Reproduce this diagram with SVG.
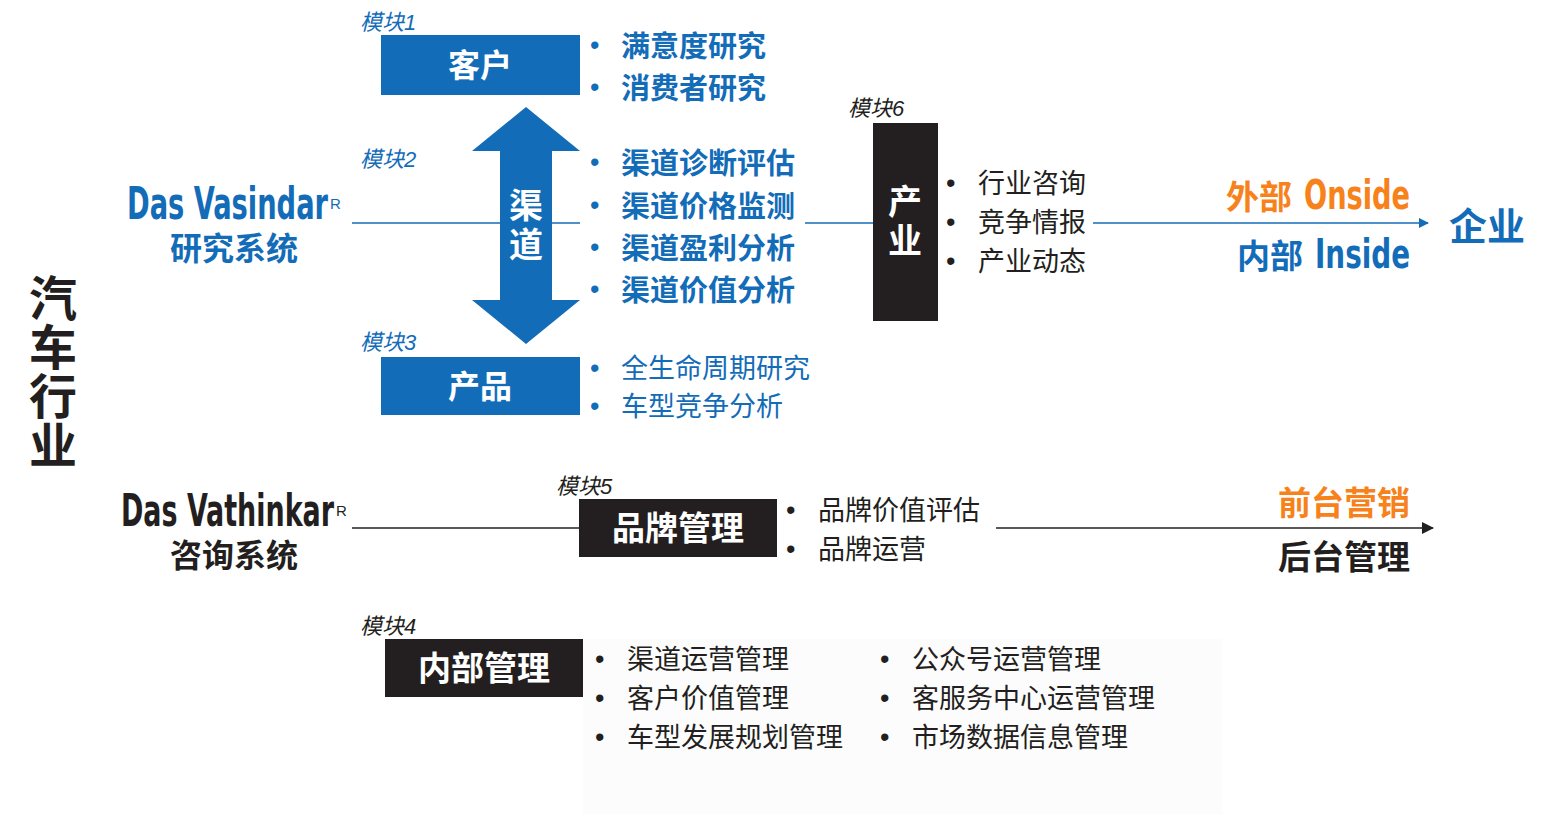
<svg xmlns="http://www.w3.org/2000/svg" width="1548" height="814" viewBox="0 0 1548 814">
<defs>
<style>
.cjk{font-family:"Noto Sans CJK SC","Noto Sans",sans-serif;}
.b{font-weight:700;}
.blue{fill:#136CB8;}
.blk{fill:#231F20;}
.org{fill:#F7821B;}
.wht{fill:#FFFFFF;}
.mod{font-family:"Liberation Sans","Noto Sans CJK SC",sans-serif;font-style:italic;font-size:22px;}
.cond{font-family:"DejaVu Sans Condensed","Liberation Sans Narrow",sans-serif;font-weight:700;}
.sup{font-family:"Liberation Sans",sans-serif;font-weight:400;font-size:15px;}
.li{font-size:29px;font-weight:700;}
.lr{font-size:27px;}
.bu{font-family:"Liberation Sans",sans-serif;font-size:27px;}
.box-b{fill:#136CB8;}
.box-k{fill:#231F20;}
.ln-b{stroke:#136CB8;stroke-width:1.5;fill:none;}
.ln-k{stroke:#231F20;stroke-width:1.5;fill:none;}
</style>
<marker id="ahb" markerWidth="10" markerHeight="10" refX="9" refY="5" orient="auto" markerUnits="userSpaceOnUse" viewBox="0 0 10 10"><path d="M0,0 L10,5 L0,10 z" fill="#136CB8"/></marker>
<marker id="ahk" markerWidth="12" markerHeight="12" refX="11" refY="6" orient="auto" markerUnits="userSpaceOnUse" viewBox="0 0 12 12"><path d="M0,0 L12,6 L0,12 z" fill="#231F20"/></marker>
</defs>
<rect width="1548" height="814" fill="#FFFFFF"/>
<rect x="583" y="639" width="639" height="175" fill="#FCFCFC"/>

<g id="connectors">
<line class="ln-b" x1="352" y1="223" x2="580" y2="223"/>
<line class="ln-b" x1="805" y1="223" x2="873" y2="223"/>
<line class="ln-b" x1="1093" y1="223" x2="1428" y2="223" marker-end="url(#ahb)"/>
<line class="ln-k" x1="352" y1="528" x2="580" y2="528"/>
<line class="ln-k" x1="996" y1="528" x2="1433" y2="528" marker-end="url(#ahk)"/>
</g>

<g id="title">
<text class="cjk b blk" font-size="48" x="53" y="274" writing-mode="vertical-rl" letter-spacing="1">汽车行业</text>
</g>

<g id="vasindar">
<text class="cond blue" font-size="45" x="127" y="219"><tspan textLength="201" lengthAdjust="spacingAndGlyphs">Das Vasindar</tspan><tspan class="sup" dx="2" dy="-10">R</tspan></text>
<text class="cjk b blue" font-size="32" x="234" y="246" text-anchor="middle" dominant-baseline="central">研究系统</text>
</g>

<g id="vathinkar">
<text class="cond blk" font-size="45" x="121" y="526"><tspan textLength="213" lengthAdjust="spacingAndGlyphs">Das Vathinkar</tspan><tspan class="sup" dx="2" dy="-10">R</tspan></text>
<text class="cjk b blk" font-size="32" x="234" y="553" text-anchor="middle" dominant-baseline="central">咨询系统</text>
</g>

<g id="module1">
<text class="mod blue" x="360" y="30">模块1</text>
<rect class="box-b" x="381" y="35" width="199" height="60"/>
<text class="cjk b wht" font-size="32" x="480" y="63" text-anchor="middle" dominant-baseline="central">客户</text>
<text class="bu blue" x="590" y="54">•</text>
<text class="cjk li blue" x="621" y="44" dominant-baseline="central">满意度研究</text>
<text class="bu blue" x="590" y="96">•</text>
<text class="cjk li blue" x="621" y="86" dominant-baseline="central">消费者研究</text>
</g>

<g id="module2">
<text class="mod blue" x="360" y="167">模块2</text>
<path class="box-b" d="M526,107 L580,151 L552,151 L552,300 L580,300 L526,344 L472,300 L500,300 L500,151 L472,151 Z"/>
<text class="cjk b wht" font-size="34" x="526" y="188" writing-mode="vertical-rl" letter-spacing="5">渠道</text>
<text class="bu blue" x="590" y="171">•</text>
<text class="cjk li blue" x="621" y="161" dominant-baseline="central">渠道诊断评估</text>
<text class="bu blue" x="590" y="214">•</text>
<text class="cjk li blue" x="621" y="204" dominant-baseline="central">渠道价格监测</text>
<text class="bu blue" x="590" y="256">•</text>
<text class="cjk li blue" x="621" y="246" dominant-baseline="central">渠道盈利分析</text>
<text class="bu blue" x="590" y="298">•</text>
<text class="cjk li blue" x="621" y="288" dominant-baseline="central">渠道价值分析</text>
</g>

<g id="module3">
<text class="mod blue" x="360" y="350">模块3</text>
<rect class="box-b" x="381" y="357" width="199" height="58"/>
<text class="cjk b wht" font-size="32" x="480" y="384" text-anchor="middle" dominant-baseline="central">产品</text>
<text class="bu blue" x="590" y="377">•</text>
<text class="cjk lr blue" x="621" y="366" dominant-baseline="central">全生命周期研究</text>
<text class="bu blue" x="590" y="415">•</text>
<text class="cjk lr blue" x="621" y="404" dominant-baseline="central">车型竞争分析</text>
</g>

<g id="module6">
<text class="mod blk" x="848" y="116">模块6</text>
<rect class="box-k" x="873" y="123" width="65" height="198"/>
<text class="cjk b wht" font-size="34" x="905" y="184" writing-mode="vertical-rl" letter-spacing="5">产业</text>
<text class="bu blk" x="946" y="192">•</text>
<text class="cjk lr blk" x="978" y="181" dominant-baseline="central">行业咨询</text>
<text class="bu blk" x="946" y="231">•</text>
<text class="cjk lr blk" x="978" y="220" dominant-baseline="central">竞争情报</text>
<text class="bu blk" x="946" y="270">•</text>
<text class="cjk lr blk" x="978" y="259" dominant-baseline="central">产业动态</text>
</g>

<g id="enterprise">
<text class="cjk b org" font-size="33" x="1226" y="195" dominant-baseline="central">外部</text>
<text class="cond org" font-size="40" x="1304" y="209" textLength="106" lengthAdjust="spacingAndGlyphs">Onside</text>
<text class="cjk b blue" font-size="33" x="1237" y="254" dominant-baseline="central">内部</text>
<text class="cond blue" font-size="40" x="1315" y="268" textLength="95" lengthAdjust="spacingAndGlyphs">Inside</text>
<text class="cjk b blue" font-size="38" x="1487" y="223" text-anchor="middle" dominant-baseline="central">企业</text>
</g>

<g id="module5">
<text class="mod blk" x="556" y="494">模块5</text>
<rect class="box-k" x="579" y="499" width="198" height="58"/>
<text class="cjk b wht" font-size="33" x="678" y="526" text-anchor="middle" dominant-baseline="central">品牌管理</text>
<text class="bu blk" x="786" y="519">•</text>
<text class="cjk lr blk" x="818" y="508" dominant-baseline="central">品牌价值评估</text>
<text class="bu blk" x="786" y="558">•</text>
<text class="cjk lr blk" x="818" y="547" dominant-baseline="central">品牌运营</text>
</g>

<g id="frontback">
<text class="cjk b org" font-size="33" x="1410" y="501" text-anchor="end" dominant-baseline="central">前台营销</text>
<text class="cjk b blk" font-size="33" x="1410" y="555" text-anchor="end" dominant-baseline="central">后台管理</text>
</g>

<g id="module4">
<text class="mod blk" x="360" y="634">模块4</text>
<rect class="box-k" x="385" y="639" width="198" height="58"/>
<text class="cjk b wht" font-size="33" x="484" y="666" text-anchor="middle" dominant-baseline="central">内部管理</text>
<text class="bu blk" x="595" y="668">•</text>
<text class="cjk lr blk" x="627" y="657" dominant-baseline="central">渠道运营管理</text>
<text class="bu blk" x="595" y="707">•</text>
<text class="cjk lr blk" x="627" y="696" dominant-baseline="central">客户价值管理</text>
<text class="bu blk" x="595" y="746">•</text>
<text class="cjk lr blk" x="627" y="735" dominant-baseline="central">车型发展规划管理</text>
<text class="bu blk" x="880" y="668">•</text>
<text class="cjk lr blk" x="912" y="657" dominant-baseline="central">公众号运营管理</text>
<text class="bu blk" x="880" y="707">•</text>
<text class="cjk lr blk" x="912" y="696" dominant-baseline="central">客服务中心运营管理</text>
<text class="bu blk" x="880" y="746">•</text>
<text class="cjk lr blk" x="912" y="735" dominant-baseline="central">市场数据信息管理</text>
</g>
</svg>
